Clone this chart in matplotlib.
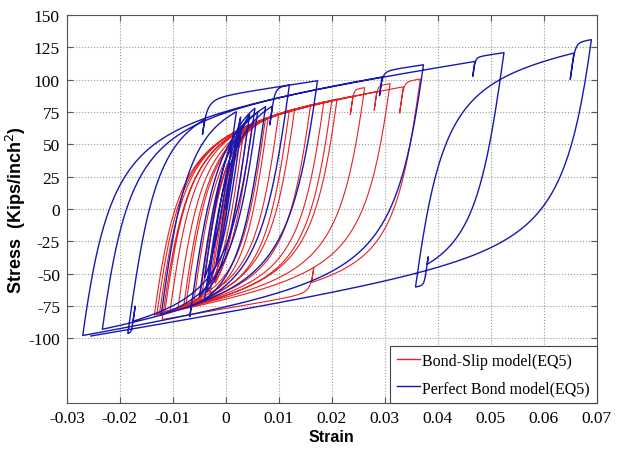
import numpy as np
import matplotlib
matplotlib.use('Agg')
import matplotlib.pyplot as plt
from matplotlib.lines import Line2D

# =========================
# Data
# reversal strains of each model (in order), plus the hardening asymptotes
# (stress at zero strain, slope) that the branches bend towards
# =========================
blue_turns = [0.0, 0.0028, -0.0018, 0.0045, -0.0035, 0.003, -0.005, 0.0075,
              -0.004, 0.0088, 0.0083, 0.012, -0.0065, -0.006, -0.0068, 0.006,
              -0.0122, 0.002, -0.004, 0.0055, -0.0175, -0.0171, -0.0185,
              -0.004, -0.0044, 0.0173, -0.0233, 0.0295, 0.029, 0.0373,
              -0.027, 0.047, 0.0466, 0.0525, 0.038, 0.0382, 0.0358, 0.0657,
              0.065, 0.069, -0.0255]
blue_up = (88.5, 615.0)
blue_down = (-84.0, 660.0)

red_turns = [0.0, 0.002, -0.0015, 0.0035, -0.003, 0.005, -0.0045, 0.0075,
             -0.006, 0.01, -0.0075, 0.013, -0.009, 0.016, -0.0105, 0.0185,
             -0.0115, 0.021, -0.0125, 0.024, 0.0235, 0.0262, -0.013, 0.0285,
             0.028, 0.031, -0.0135, 0.0335, 0.0328, 0.0367, 0.0162, 0.0166,
             -0.012, 0.02, -0.008, 0.012, -0.005, 0.008, -0.003, 0.004,
             -0.002, 0.002]
red_up = (77.0, 640.0)
red_down = (-77.0, 700.0)

x_ticks = [-0.03, -0.02, -0.01, 0, 0.01, 0.02, 0.03, 0.04, 0.05, 0.06, 0.07]
y_ticks = [-100, -75, -50, -25, 0, 25, 50, 75, 100, 125, 150]

E_STEEL = 29000.0


def menegotto_pinto(turns, up_line, down_line, E=E_STEEL, n=150):
    # Menegotto-Pinto branches between the reversal strains; the curvature R
    # drops as the strain excursion of the branch grows
    eps, sig = [turns[0]], [0.0]
    er, sr = turns[0], 0.0
    for ee in turns[1:]:
        d = 1 if ee > er else -1
        s_int, slope = up_line if d > 0 else down_line
        e0 = (s_int - sr + E * er) / (E - slope)
        s0 = sr + E * (e0 - er)
        e = np.linspace(er, ee, n)
        if (e0 - er) * d <= 0:
            s = sr + slope * (e - er)
        else:
            xi = abs(ee - er) / 0.0021
            R = 20 - 18.7 * xi / (0.2 + xi)
            es = (e - er) / (e0 - er)
            b = slope / E
            ss = b * es + (1 - b) * es / (1 + es ** R) ** (1 / R)
            s = sr + ss * (s0 - sr)
        eps.extend(e[1:])
        sig.extend(s[1:])
        er, sr = ee, s[-1]
    return np.array(eps), np.array(sig)


fig = plt.figure(figsize=(6.19, 4.52), dpi=100)
ax = fig.add_axes([0.108, 0.106, 0.856, 0.859])

be, bs = menegotto_pinto(blue_turns, blue_up, blue_down)
re_, rs = menegotto_pinto(red_turns, red_up, red_down)

ax.plot(re_, rs, color='#e42222', lw=0.8)
ax.plot(be, bs, color='#1818b0', lw=1.0)

ax.set_xlim(-0.03, 0.07)
ax.set_ylim(-150, 150)
ax.set_xticks(x_ticks)
ax.set_xticklabels(['-0.03', '-0.02', '-0.01', '0', '0.01', '0.02', '0.03',
                    '0.04', '0.05', '0.06', '0.07'])
ax.set_yticks(y_ticks)
ax.set_yticklabels([str(v) for v in y_ticks])
for lab in ax.get_xticklabels() + ax.get_yticklabels():
    lab.set_family('Liberation Serif')
    lab.set_fontsize(12.5)
ax.tick_params(direction='in', length=4, top=True, right=True, pad=5,
               color='#555555')
ax.grid(True, linestyle=':', color='#999999', linewidth=0.8)
for sp in ax.spines.values():
    sp.set_color('#555555')

ax.set_xlabel('Strain', fontsize=11.5, fontweight='bold',
              family='Liberation Sans', labelpad=2)
ax.set_ylabel('Stress  (Kips/inch$^2$)', fontsize=13, fontweight='bold',
              family='Liberation Sans', labelpad=0)

handles = [Line2D([], [], color='#e42222', lw=1.0),
           Line2D([], [], color='#1818b0', lw=1.0)]
leg = ax.legend(handles, ['Bond-Slip model(EQ5)', 'Perfect Bond model(EQ5)'],
                loc='lower right', prop={'family': 'Liberation Serif', 'size': 11.5},
                fancybox=False, framealpha=1, edgecolor='#444444',
                borderaxespad=0.0, handlelength=1.4, handletextpad=0.15,
                borderpad=0.45, labelspacing=0.7)
leg.get_frame().set_linewidth(0.8)

fig.savefig('out.png', dpi=100)
